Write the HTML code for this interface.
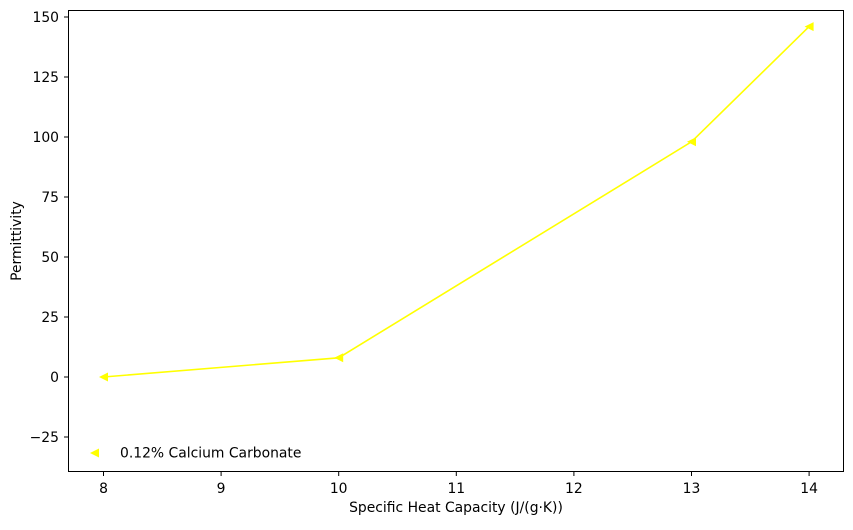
<!DOCTYPE html>
<html><head><meta charset="utf-8"><style>
body{margin:0;background:#fff}
text{font-family:"DejaVu Sans","Liberation Sans",sans-serif;font-size:13.9px;fill:#000}
</style></head><body>
<svg id="chart" width="853" height="525" xmlns="http://www.w3.org/2000/svg">
<rect x="68.5" y="10.5" width="775" height="461" fill="#fff" stroke="#000" stroke-width="1"/>
<g id="xt"></g><g id="yt"></g><g id="series"></g>
<text x="456" y="512" text-anchor="middle">Specific Heat Capacity (J/(g·K))</text>
<text transform="translate(21,241) rotate(-90)" text-anchor="middle">Permittivity</text>
<g>
<polygon points="90,453 99,448.5 99,457.5" fill="#ffff00"/>
<text x="120" y="457.5">0.12% Calcium Carbonate</text>
</g>
</svg>
<script>
const xValues=[8,10,13,14];
const yValues=[0,8,98,146];
const xTicks=[8,9,10,11,12,13,14];
const yTicks=[-25,0,25,50,75,100,125,150];
const NS="http://www.w3.org/2000/svg";
const sx=v=>103.5+(v-8)*117.6;
const sy=v=>377-v*2.4;
function mk(t,a,p){const e=document.createElementNS(NS,t);for(const k in a)e.setAttribute(k,a[k]);p.appendChild(e);return e;}
const xt=document.getElementById('xt'),yt=document.getElementById('yt'),s=document.getElementById('series');
xTicks.forEach(v=>{const x=sx(v);
const l=mk('line',{x1:x,x2:x,y1:472,y2:476,stroke:'#000'},xt);


const t=mk('text',{x:x,y:493,'text-anchor':'middle'},xt);t.textContent=v;

});
yTicks.forEach(v=>{const y=sy(v);
const l=mk('line',{x1:64,x2:68,y1:y,y2:y,stroke:'#000'},yt);


const t=mk('text',{x:59,y:y+5,'text-anchor':'end'},yt);t.textContent=v<0?'\u2212'+(-v):v;

});
const pl=mk('polyline',{points:xValues.map((x,i)=>sx(x)+','+sy(yValues[i])).join(' '),fill:'none',stroke:'#ffff00','stroke-width':1.6},s);


xValues.forEach((x,i)=>{const cx=sx(x),cy=sy(yValues[i]);
const m=mk('polygon',{points:`${cx-4.5},${cy} ${cx+4.5},${cy-4.5} ${cx+4.5},${cy+4.5}`,fill:'#ffff00'},s);

});
</script>
</body></html>
